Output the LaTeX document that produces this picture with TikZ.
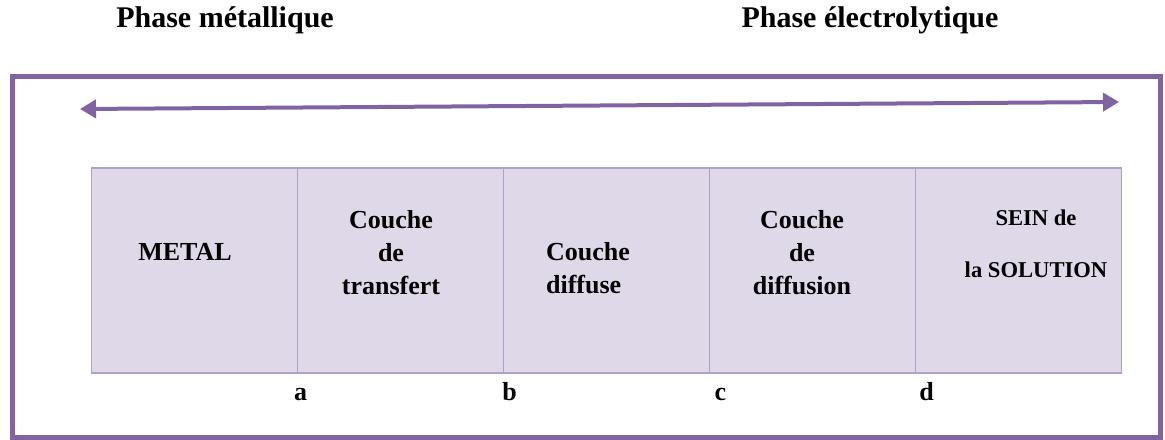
\documentclass[tikz,border=0pt]{standalone}
\usepackage{fontspec}
\setmainfont{Liberation Serif}
\usepackage{tikz}
\usetikzlibrary{arrows.meta}
\usetikzlibrary{positioning}

\definecolor{framepurple}{RGB}{128,100,162}
\definecolor{cellfill}{RGB}{223,216,232}
\definecolor{celledge}{RGB}{178,161,199}

\begin{document}
\begin{tikzpicture}[x=0.5pt, y=-0.5pt,
    cell/.style={draw=celledge, fill=cellfill, line width=0.8pt, outer sep=0pt,
        minimum width=103pt, minimum height=102.5pt, inner sep=0pt},
    celltext/.style={font=\fontsize{13}{16.5}\selectfont\bfseries, align=center, inner sep=0pt},
    phase/.style={font=\fontsize{15}{18}\selectfont\bfseries, inner sep=0pt},
    pointlabel/.style={font=\fontsize{13}{16}\selectfont\bfseries, inner sep=0pt, anchor=base}]
    \useasboundingbox (0, 0) rectangle (1165, 439);

    \node[phase] (metalphase) at (225, 20) {Phase métallique};
    \node[phase] (electrophase) at (870, 20) {Phase électrolytique};

    \draw [framepurple, line width=2.5pt] (12, 76) rectangle (1160, 437);

    \coordinate (leftend) at (80, 109);
    \coordinate (rightend) at (1119, 102);
    \draw [framepurple, line width=2pt,
        {Triangle[length=8pt, width=9pt]}-{Triangle[length=8pt, width=9pt]}]
        (leftend) -- (rightend);

    \node[cell] (metal) at (194.5, 270.5) {};
    \node[cell, right=0pt of metal] (transfert) {};
    \node[cell, right=0pt of transfert] (diffuse) {};
    \node[cell, right=0pt of diffuse] (diffusion) {};
    \node[cell, right=0pt of diffusion] (sein) {};

    \node[celltext] (metaltxt) at (185, 252) {METAL};
    \node[celltext] (transferttxt) at (391, 253) {Couche\\de\\transfert};
    \node[celltext, align=left] (diffusetxt) at (588, 268) {Couche\\diffuse};
    \node[celltext] (diffusiontxt) at (802, 253) {Couche\\de\\diffusion};
    \node[celltext, font=\fontsize{11.3}{14}\selectfont\bfseries] (seintxt) at (1036, 244)
        {SEIN de\\[12pt]la SOLUTION};

    \node[pointlabel] (a) at ([xshift=1.5pt, yshift=-13.5pt]metal.south east) {a};
    \node[pointlabel] (b) at ([xshift=3pt, yshift=-13.5pt]transfert.south east) {b};
    \node[pointlabel] (c) at ([xshift=5.5pt, yshift=-13.5pt]diffuse.south east) {c};
    \node[pointlabel] (d) at ([xshift=5.5pt, yshift=-13.5pt]diffusion.south east) {d};
\end{tikzpicture}
\end{document}
